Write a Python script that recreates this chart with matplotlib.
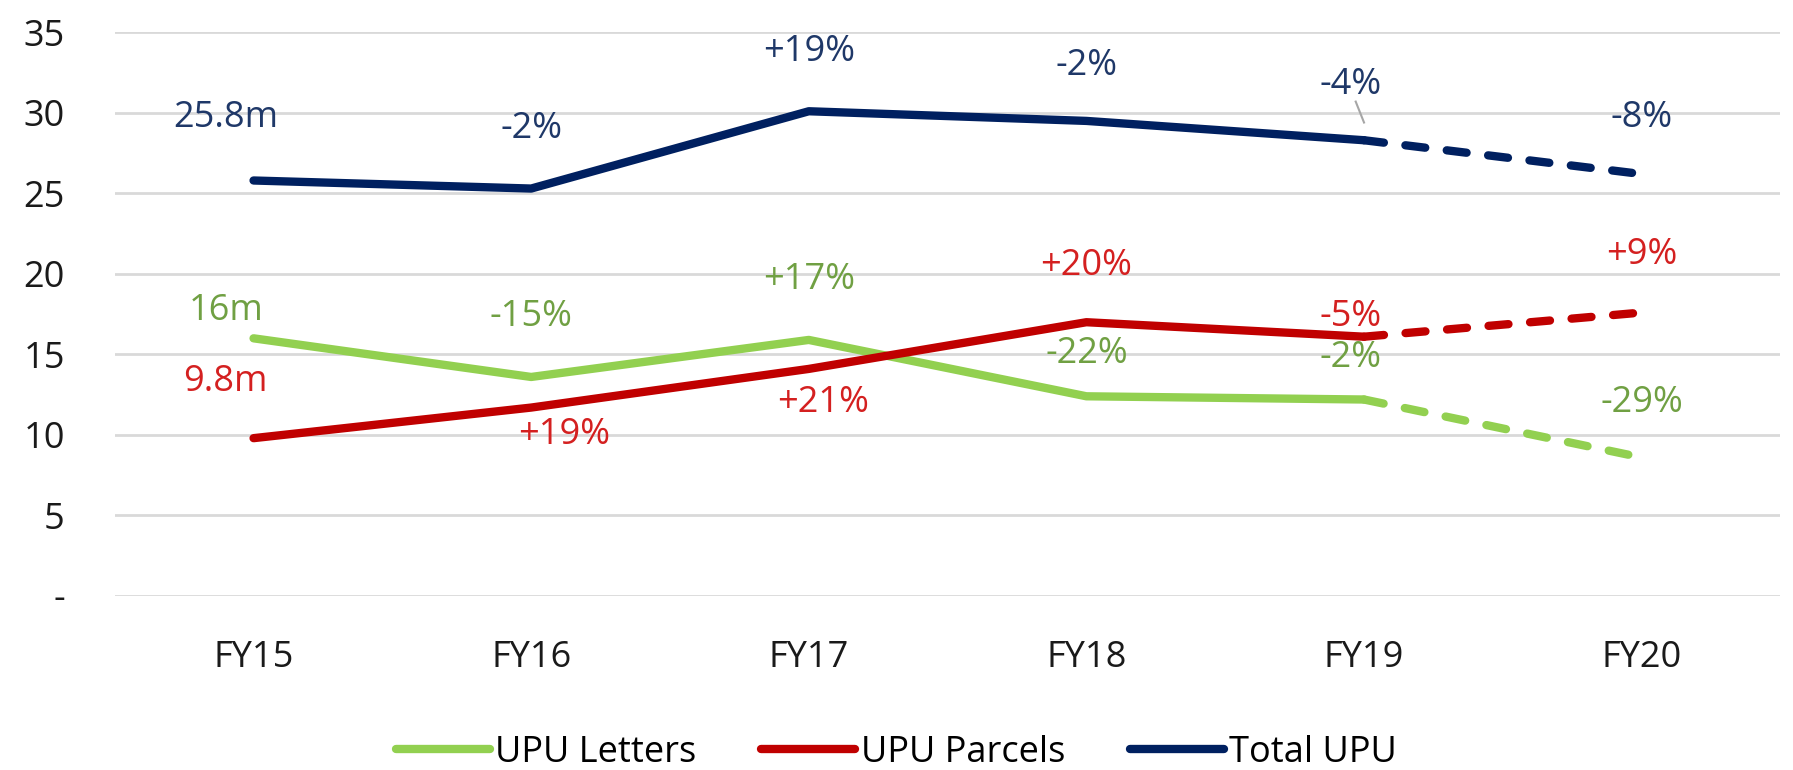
import numpy as np
from matplotlib import pyplot as plt
from matplotlib.lines import Line2D

plt.rcParams['font.family'] = ['Open Sans', 'DejaVu Sans']

years = ["FY15", "FY16", "FY17", "FY18", "FY19", "FY20"]
letters = [16.0, 13.6, 15.9, 12.4, 12.2, 8.6]
parcels = [9.8, 11.7, 14.1, 17.0, 16.1, 17.6]
total = [25.8, 25.3, 30.1, 29.5, 28.3, 26.2]

letters_labels = ["16m", "-15%", "+17%", "-22%", "-2%", "-29%"]
parcels_labels = ["9.8m", "+19%", "+21%", "+20%", "-5%", "+9%"]
total_labels = ["25.8m", "-2%", "+19%", "-2%", "-4%", "-8%"]

# label anchor positions (x in category units, y in data units)
letters_pos = [(-0.1, 17.7), (1.0, 17.3), (2.0, 19.6), (3.0, 15.0), (3.95, 14.8), (5.0, 12.0)]
parcels_pos = [(-0.1, 13.3), (1.12, 10.0), (2.05, 12.0), (3.0, 20.5), (3.95, 17.3), (5.0, 21.2)]
total_pos = [(-0.1, 29.7), (1.0, 29.0), (2.0, 33.8), (3.0, 32.9), (3.95, 31.7), (5.0, 29.7)]

series = [
    ("UPU Letters", letters, letters_labels, letters_pos, "#92D050", "#70A043"),
    ("UPU Parcels", parcels, parcels_labels, parcels_pos, "#C00000", "#D42020"),
    ("Total UPU", total, total_labels, total_pos, "#002060", "#1F3868"),
]

fig = plt.figure(figsize=(17.93, 7.70), dpi=100)
ax = fig.add_axes([0.064, 0.226, 0.929, 0.732])

x = np.arange(len(years))
lw = 6
handles = []
for name, vals, labs, pos, col, tcol in series:
    # actuals solid up to FY19, forecast dashed to FY20
    ax.plot(x[:5], vals[:5], color=col, lw=lw, solid_capstyle='round', solid_joinstyle='round', zorder=3)
    ax.plot(x[4:], vals[4:], color=col, lw=lw, ls=(0, (2.4, 2.6)), dash_capstyle='round', zorder=3)
    for lab, (px, py) in zip(labs, pos):
        ax.text(px, py, lab, color=tcol, fontsize=26, ha='center', va='center', zorder=4)
    handles.append(Line2D([0], [0], color=col, lw=lw, solid_capstyle='round', label=name))

# leader line for the FY19 total label
ax.plot([3.97, 4.0], [30.7, 29.4], color='#A6A6A6', lw=1.5, zorder=2)

ax.set_xlim(-0.5, 5.5)
ax.set_ylim(0, 35)
ax.set_yticks(np.arange(0, 36, 5))
ax.set_yticklabels(["-"] + [str(v) for v in range(5, 36, 5)])
ax.set_xticks(x)
ax.set_xticklabels(years)
ax.tick_params(axis='both', length=0, labelsize=26, colors='#1A1A1A')
ax.tick_params(axis='y', pad=36)
ax.tick_params(axis='x', pad=32)
ax.grid(axis='y', color='#D9D9D9', lw=2)
ax.set_axisbelow(True)
for s in ax.spines.values():
    s.set_visible(False)

fig.legend(handles=handles, loc='center', bbox_to_anchor=(0.5, 0.022), ncol=3, frameon=False,
           fontsize=26, handlelength=2.6, handletextpad=0.15, columnspacing=1.8)

fig.savefig("out.png", dpi=100)
